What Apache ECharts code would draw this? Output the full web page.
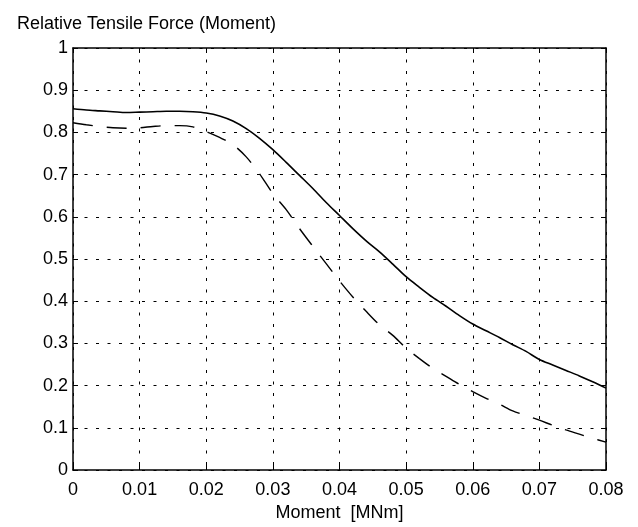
<!DOCTYPE html>
<html>
<head>
<meta charset="utf-8">
<script src="https://cdn.jsdelivr.net/npm/echarts@6/dist/echarts.min.js"></script>
<style>
  html, body { margin: 0; padding: 0; background: #fff; }
  #chart { width: 638px; height: 527px; }
</style>
</head>
<body>
<div id="chart"></div>
<script>
// moment [MNm]
const moment = [0, 0.002, 0.004, 0.006, 0.008, 0.010, 0.012, 0.014, 0.016, 0.018,
  0.020, 0.022, 0.024, 0.026, 0.028, 0.030, 0.032, 0.034, 0.036, 0.038,
  0.040, 0.042, 0.044, 0.046, 0.048, 0.050, 0.052, 0.054, 0.056, 0.058,
  0.060, 0.062, 0.064, 0.066, 0.068, 0.070, 0.072, 0.074, 0.076, 0.078, 0.080]
// solid curve
const solidForce = [0.856, 0.853, 0.851, 0.849, 0.847, 0.848, 0.849, 0.850, 0.850, 0.849,
  0.846, 0.839, 0.827, 0.809, 0.786, 0.759, 0.729, 0.698, 0.667, 0.634,
  0.603, 0.572, 0.543, 0.517, 0.488, 0.458, 0.433, 0.409, 0.388, 0.366,
  0.346, 0.330, 0.314, 0.297, 0.281, 0.262, 0.249, 0.236, 0.223, 0.209, 0.194]
// dashed curve
const dashedForce = [0.823, 0.818, 0.814, 0.811, 0.810, 0.811, 0.814, 0.816, 0.816, 0.813,
  0.802, 0.788, 0.771, 0.742, 0.702, 0.655, 0.617, 0.572, 0.530, 0.489,
  0.448, 0.410, 0.376, 0.344, 0.319, 0.289, 0.264, 0.241, 0.222, 0.203,
  0.186, 0.170, 0.156, 0.140, 0.129, 0.118, 0.106, 0.095, 0.085, 0.075, 0.066]

const font = 'Liberation Sans, Arial, Helvetica, sans-serif'
const gridDots = { show: true, lineStyle: { color: '#000', width: 1, type: [3, 8.5] } }

const chart = echarts.init(document.getElementById('chart'), null, { renderer: 'canvas' })

chart.setOption({
  animation: false,
  backgroundColor: '#fff',
  title: {
    text: 'Relative Tensile Force (Moment)',
    left: 12,
    top: 10,
    textStyle: { fontFamily: font, fontSize: 18, fontWeight: 'normal', color: '#000' }
  },
  grid: { left: 73, right: 32, top: 48, bottom: 55 },
  xAxis: [{
    type: 'value',
    min: 0,
    max: 0.08,
    interval: 0.01,
    name: 'Moment  [MNm]',
    nameLocation: 'middle',
    nameGap: 34,
    nameTextStyle: { fontFamily: font, fontSize: 18, color: '#000' },
    axisLine: { show: true, onZero: false, lineStyle: { color: '#000', width: 1.5 } },
    axisTick: { show: true, inside: true, length: 5, lineStyle: { color: '#000' } },
    axisLabel: {
      fontFamily: font, fontSize: 18, color: '#000', margin: 11,
      formatter: v => v === 0 ? '0' : v.toFixed(2)
    },
    splitLine: gridDots
  }, {
    type: 'value',
    position: 'top',
    min: 0,
    max: 0.08,
    interval: 0.01,
    axisLine: { show: true, onZero: false, lineStyle: { color: '#000', width: 1.5 } },
    axisTick: { show: true, inside: true, length: 5, lineStyle: { color: '#000' } },
    axisLabel: { show: false },
    splitLine: { show: false }
  }],
  yAxis: [{
    type: 'value',
    min: 0,
    max: 1,
    interval: 0.1,
    axisLine: { show: true, onZero: false, lineStyle: { color: '#000', width: 1.5 } },
    axisTick: { show: true, inside: true, length: 5, lineStyle: { color: '#000' } },
    axisLabel: {
      fontFamily: font, fontSize: 18, color: '#000', margin: 5,
      formatter: v => v === 0 ? '0' : (v === 1 ? '1' : v.toFixed(1))
    },
    splitLine: gridDots
  }, {
    type: 'value',
    position: 'right',
    min: 0,
    max: 1,
    interval: 0.1,
    axisLine: { show: true, onZero: false, lineStyle: { color: '#000', width: 1.5 } },
    axisTick: { show: true, inside: true, length: 5, lineStyle: { color: '#000' } },
    axisLabel: { show: false },
    splitLine: { show: false }
  }],
  series: [{
    name: 'solid',
    type: 'line',
    showSymbol: false,
    smooth: 0.3,
    data: moment.map((m, i) => [m, solidForce[i]]),
    lineStyle: { color: '#000', width: 1.6 }
  }, {
    name: 'dashed',
    type: 'line',
    showSymbol: false,
    smooth: 0.3,
    data: moment.map((m, i) => [m, dashedForce[i]]),
    lineStyle: { color: '#000', width: 1.4, type: [20, 14] }
  }]
})
</script>
</body>
</html>
